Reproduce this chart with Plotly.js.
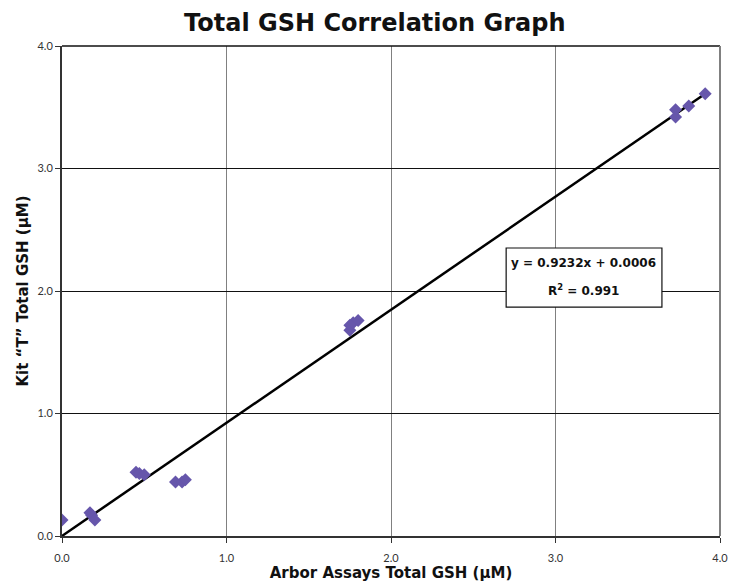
<!DOCTYPE html>
<html>
<head>
<meta charset="utf-8">
<script src="https://cdn.plot.ly/plotly-3.0.1.min.js"></script>
<style>html,body{margin:0;padding:0;background:#fff;}#chart{width:732px;height:585px;}</style>
</head>
<body>
<div id="chart"></div>
<script>
// Measured values (Arbor Assays vs Kit "T"), µM
const arborX = [0.00, 0.17, 0.18, 0.20, 0.45, 0.47, 0.50, 0.69, 0.73, 0.75, 1.75, 1.75, 1.77, 1.80, 3.73, 3.73, 3.81, 3.91];
const kitY   = [0.13, 0.19, 0.17, 0.13, 0.52, 0.51, 0.50, 0.44, 0.44, 0.46, 1.68, 1.72, 1.74, 1.76, 3.48, 3.42, 3.51, 3.61];
// Linear trendline end points (y = 0.9232x + 0.0006)
const trendX = [0.0, 3.91];
const trendY = [0.0006, 3.6103];
const tickVals = [0, 1, 2, 3, 4];
const tickText = ['0.0', '1.0', '2.0', '3.0', '4.0'];
const eqText = 'y = 0.9232x + 0.0006';
const r2Text = 'R<sup>2</sup> = 0.991';

const tickFont = 'Lato, "Open Sans", sans-serif';
const boldFont = '"DejaVu Sans", "Open Sans", sans-serif';

const traces = [
  {
    x: trendX, y: trendY, mode: 'lines', type: 'scatter',
    line: {color: '#000000', width: 2.5},
    hoverinfo: 'skip', showlegend: false
  },
  {
    x: arborX, y: kitY, mode: 'markers', type: 'scatter',
    marker: {symbol: 'diamond', size: 10, color: '#6656ab', line: {width: 0}},
    showlegend: false
  }
];

const layout = {
  width: 732, height: 585,
  paper_bgcolor: '#ffffff', plot_bgcolor: '#ffffff',
  margin: {l: 62, r: 12, t: 46, b: 49},
  showlegend: false,
  title: {
    text: '<b>Total GSH Correlation Graph</b>',
    font: {family: boldFont, size: 24, color: '#111111'},
    x: 0.512, xanchor: 'center', y: 0.962, yanchor: 'middle'
  },
  xaxis: {
    range: [0, 4], tickvals: tickVals, ticktext: tickText,
    ticks: 'outside', ticklen: 5, tickcolor: '#333', tickwidth: 1,
    ticklabelstandoff: 6,
    showgrid: true, gridcolor: '#808080', gridwidth: 1,
    showline: true, linecolor: '#333333', linewidth: 2, mirror: false,
    zeroline: false,
    tickfont: {family: tickFont, size: 11, color: '#333333'},
    title: {text: '<b>Arbor Assays Total GSH (μM)</b>', font: {family: boldFont, size: 15, color: '#111111'}, standoff: 4}
  },
  yaxis: {
    range: [0, 4], tickvals: tickVals, ticktext: tickText,
    ticks: 'outside', ticklen: 5, tickcolor: '#333', tickwidth: 1,
    showgrid: true, gridcolor: '#111111', gridwidth: 1,
    showline: true, linecolor: '#333333', linewidth: 2,
    zeroline: false,
    tickfont: {family: tickFont, size: 11, color: '#333333'},
    title: {text: '<b>Kit “T” Total GSH (μM)</b>', font: {family: boldFont, size: 15, color: '#111111'}, standoff: 5}
  },
  shapes: [
    {type: 'line', xref: 'paper', yref: 'paper', x0: 0, x1: 1, y0: 1, y1: 1, line: {color: '#111111', width: 1.5}},
    {type: 'line', xref: 'paper', yref: 'paper', x0: 1, x1: 1, y0: 0, y1: 1, line: {color: '#808080', width: 2}},
    {type: 'rect', xref: 'x', yref: 'y', x0: 2.70, x1: 3.647, y0: 1.869, y1: 2.351,
     fillcolor: '#ffffff', line: {color: '#111111', width: 1.2}, layer: 'above'}
  ],
  annotations: [
    {
      xref: 'x', yref: 'y', x: 3.17, y: 2.229, xanchor: 'center', yanchor: 'middle',
      text: '<b>' + eqText + '</b>', showarrow: false,
      font: {family: boldFont, size: 12, color: '#111111'}
    },
    {
      xref: 'x', yref: 'y', x: 3.17, y: 2.008, xanchor: 'center', yanchor: 'middle',
      text: '<b>' + r2Text + '</b>', showarrow: false,
      font: {family: boldFont, size: 12, color: '#111111'}
    }
  ]
};

Plotly.newPlot('chart', traces, layout, {displayModeBar: false, staticPlot: true});
</script>
</body>
</html>
